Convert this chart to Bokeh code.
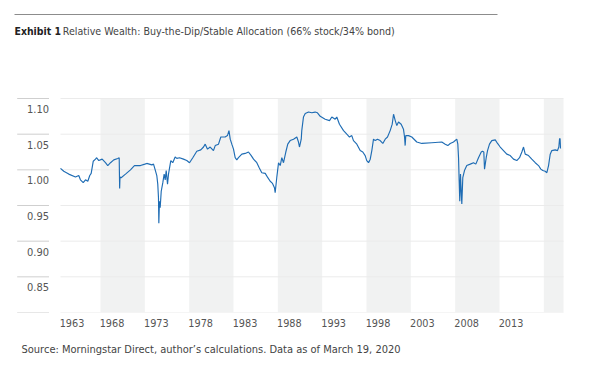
from bokeh.plotting import figure
from bokeh.models import Range1d, FixedTicker, Title, ColumnDataSource
from bokeh.embed import file_html
from bokeh.resources import INLINE
from bokeh.core.properties import value

# ---------------- data ----------------
YEARS = [1963.49, 1963.86, 1964.42, 1965.18, 1965.55, 1965.74, 1966.05, 1966.31, 1966.57, 1966.79,
         1966.95, 1967.18, 1967.44, 1967.55, 1967.81, 1968.19, 1968.56, 1968.82, 1969.13, 1969.50,
         1969.95, 1970.11, 1970.16, 1970.20, 1970.33, 1970.82, 1971.38, 1971.83, 1972.51, 1973.00,
         1973.22, 1973.79, 1973.98, 1974.17, 1974.35, 1974.46, 1974.54, 1974.58, 1974.65, 1974.73,
         1974.85, 1975.03, 1975.18, 1975.30, 1975.41, 1975.56, 1975.67, 1975.93, 1976.15, 1976.42,
         1976.61, 1976.91, 1977.36, 1977.73, 1978.04, 1978.41, 1978.86, 1979.31, 1979.62, 1979.81,
         1980.07, 1980.37, 1980.74, 1980.94, 1981.31, 1981.57, 1982.06, 1982.32, 1982.49, 1982.63,
         1982.81, 1983.00, 1983.19, 1983.37, 1983.56, 1983.94, 1984.32, 1984.69, 1985.00, 1985.26,
         1985.63, 1985.90, 1986.19, 1986.58, 1986.87, 1987.14, 1987.40, 1987.62, 1987.70, 1987.88,
         1988.08, 1988.27, 1988.45, 1988.64, 1988.90, 1989.12, 1989.39, 1989.77, 1990.14, 1990.33,
         1990.44, 1990.64, 1990.70, 1990.89, 1991.09, 1991.46, 1991.83, 1992.21, 1992.47, 1992.78,
         1993.34, 1993.83, 1994.09, 1994.47, 1994.65, 1994.95, 1995.41, 1995.78, 1996.08, 1996.34,
         1996.53, 1996.91, 1997.29, 1997.58, 1997.85, 1998.03, 1998.23, 1998.42, 1998.60, 1998.79,
         1998.98, 1999.24, 1999.54, 1999.84, 2000.11, 2000.37, 2000.67, 2000.90, 2001.05, 2001.24,
         2001.42, 2001.61, 2001.91, 2002.17, 2002.29, 2002.36, 2002.43, 2002.74, 2003.11, 2003.67,
         2004.24, 2005.36, 2006.49, 2006.88, 2007.17, 2007.44, 2007.81, 2008.18, 2008.30, 2008.38,
         2008.45, 2008.52, 2008.60, 2008.68, 2008.75, 2008.86, 2009.05, 2009.31, 2009.70, 2010.07,
         2010.33, 2010.63, 2010.94, 2011.08, 2011.23, 2011.31, 2011.50, 2011.65, 2011.87, 2012.13,
         2012.52, 2012.78, 2013.08, 2013.45, 2013.82, 2014.21, 2014.58, 2014.95, 2015.26, 2015.52,
         2015.71, 2015.90, 2016.27, 2016.64, 2017.03, 2017.40, 2017.66, 2017.88, 2018.15, 2018.34,
         2018.53, 2018.72, 2018.90, 2019.28, 2019.54, 2019.69, 2019.77, 2019.83, 2019.88]

WEALTH = [1.002, 0.998, 0.994, 0.990, 0.992, 0.986, 0.982, 0.986, 0.984, 0.992,
          0.995, 1.012, 1.015, 1.017, 1.013, 1.015, 1.010, 1.006, 1.010, 1.014,
          1.016, 1.017, 0.974, 0.990, 0.989, 0.994, 1.000, 1.006, 1.006, 1.008,
          1.009, 1.007, 1.008, 1.000, 0.992, 0.980, 0.961, 0.925, 0.956, 0.947,
          0.970, 0.982, 0.994, 0.986, 0.999, 0.980, 0.994, 1.013, 1.010, 1.018,
          1.016, 1.017, 1.015, 1.013, 1.010, 1.017, 1.026, 1.028, 1.032, 1.036,
          1.029, 1.032, 1.027, 1.034, 1.036, 1.046, 1.046, 1.048, 1.055, 1.043,
          1.036, 1.029, 1.017, 1.014, 1.017, 1.022, 1.023, 1.025, 1.020, 1.015,
          1.010, 1.003, 0.996, 0.995, 0.989, 0.984, 0.981, 0.975, 0.968, 0.989,
          1.010, 1.006, 1.017, 1.010, 1.025, 1.036, 1.041, 1.043, 1.046, 1.039,
          1.032, 1.043, 1.055, 1.074, 1.079, 1.081, 1.080, 1.081, 1.080, 1.075,
          1.071, 1.069, 1.074, 1.071, 1.074, 1.064, 1.055, 1.050, 1.046, 1.048,
          1.041, 1.036, 1.027, 1.025, 1.020, 1.013, 1.010, 1.015, 1.027, 1.043,
          1.041, 1.043, 1.041, 1.037, 1.043, 1.046, 1.055, 1.064, 1.078, 1.069,
          1.062, 1.067, 1.064, 1.057, 1.046, 1.034, 1.048, 1.048, 1.046, 1.039,
          1.037, 1.038, 1.039, 1.036, 1.034, 1.037, 1.039, 1.043, 1.036, 1.017,
          0.985, 0.956, 0.994, 0.970, 0.952, 0.989, 0.999, 1.006, 1.008, 1.010,
          1.008, 1.017, 1.025, 1.026, 1.025, 1.001, 1.017, 1.027, 1.036, 1.041,
          1.042, 1.037, 1.032, 1.027, 1.022, 1.020, 1.015, 1.013, 1.017, 1.025,
          1.032, 1.022, 1.020, 1.015, 1.010, 1.006, 1.001, 0.999, 0.998, 0.996,
          1.006, 1.022, 1.027, 1.028, 1.027, 1.032, 1.043, 1.044, 1.030]

X_START = 1963.49          # first date shown
X_END = 2020.22            # March 19, 2020
BAND_STARTS = [1968, 1978, 1988, 1998, 2008, 2018]
BAND_ENDS = [1973, 1983, 1993, 2003, 2013, 2020.22]
X_TICKS = [1963.49, 1968, 1973, 1978, 1983, 1988, 1993, 1998, 2003, 2008, 2013]
X_TICK_LABELS = ["1963", "1968", "1973", "1978", "1983", "1988", "1993", "1998", "2003", "2008", "2013"]
Y_TICKS = [0.80, 0.85, 0.90, 0.95, 1.00, 1.05, 1.10]
Y_TICK_LABELS = ["", "0.85", "0.90", "0.95", "1.00", "1.05", "1.10"]
Y_MIN, Y_MAX = 0.80, 1.10

TITLE_BOLD = "Exhibit 1"
TITLE_REST = "Relative Wealth: Buy-the-Dip/Stable Allocation (66% stock/34% bond)"
SOURCE = "Source: Morningstar Direct, author\u2019s calculations. Data as of March 19, 2020"

# ---------------- layout ----------------
W, H = 594, 376
FRAME_BOTTOM = 312         # px of the 0.80 line
DATA_LEFT = 60             # px of first date
PX_PER_YEAR = 8.867
PX_PER_UNIT = 713.3
XLABEL_SHIFT_PX = 11.5     # centred axis labels shifted so they start at their year

def x_at(px):
    return X_START + (px - DATA_LEFT) / PX_PER_YEAR

def y_at(py):
    return Y_MIN + (FRAME_BOTTOM - py) / PX_PER_UNIT

FONT = "'DejaVu Sans Condensed', 'Liberation Sans Narrow', Roboto, sans-serif"

p = figure(width=W, height=H, output_backend="svg", toolbar_location=None,
           x_range=Range1d(x_at(0), x_at(W)), y_range=Range1d(y_at(FRAME_BOTTOM), y_at(0)),
           y_axis_location=None, min_border_left=0, min_border_right=0,
           min_border_top=0, min_border_bottom=H - FRAME_BOTTOM,
           outline_line_color=None, background_fill_color="white",
           border_fill_color="white")
p.grid.visible = False

# shaded 5-year bands
p.quad(left=BAND_STARTS, right=BAND_ENDS, bottom=Y_MIN, top=Y_MAX,
       fill_color="#f1f2f2", line_color=None)

# horizontal grid lines in the plot area
p.segment(x0=[X_START] * len(Y_TICKS), x1=[X_END] * len(Y_TICKS), y0=Y_TICKS, y1=Y_TICKS,
          line_color="#ebebeb", line_width=1)
# short rules over the y labels
p.segment(x0=[x_at(16.7)] * len(Y_TICKS), x1=[x_at(48.5)] * len(Y_TICKS), y0=Y_TICKS, y1=Y_TICKS,
          line_color="#cfcfcf", line_width=1)

# y tick labels (hanging below their rule)
p.text(x=[x_at(48.5)] * len(Y_TICKS), y=Y_TICKS, text=Y_TICK_LABELS,
       text_align="right", text_baseline="middle", y_offset=10.5,
       text_font=value(FONT), text_font_size="11px", text_color="#555555")

# data line
src = ColumnDataSource(dict(x=YEARS, y=WEALTH))
p.line("x", "y", source=src, line_color="#1e6cb4", line_width=1.15)

# title and top rule
p.segment(x0=[x_at(14)], x1=[x_at(497)], y0=[y_at(14)], y1=[y_at(14)],
          line_color="#8c8c8c", line_width=1)
p.text(x=[x_at(14)], y=[y_at(30)], text=[TITLE_BOLD], text_baseline="alphabetic",
       text_font=value(FONT), text_font_size="10.4px", text_font_style="bold",
       text_color="#222222")
p.text(x=[x_at(62.3)], y=[y_at(30)], text=[TITLE_REST], text_baseline="alphabetic",
       text_font=value(FONT), text_font_size="10.6px", text_color="#444444")

# x axis (labels start at their year)
shift = XLABEL_SHIFT_PX / PX_PER_YEAR
label_pos = [t + shift for t in X_TICKS]
ax = p.xaxis[0]
ax.ticker = FixedTicker(ticks=label_pos)
ax.major_label_overrides = dict(zip(label_pos, X_TICK_LABELS))
ax.major_label_text_font = FONT
ax.major_label_text_font_size = "10.8px"
ax.major_label_text_color = "#555555"
ax.major_label_standoff = 0
ax.axis_line_color = None
ax.major_tick_line_color = None
ax.minor_tick_line_color = None

# source note
p.add_layout(Title(text=SOURCE, align="left", offset=21, standoff=22,
                   text_font=FONT, text_font_size="11px", text_font_style="normal",
                   text_color="#444444"), "below")

open("out.html", "w").write(file_html(p, INLINE))
